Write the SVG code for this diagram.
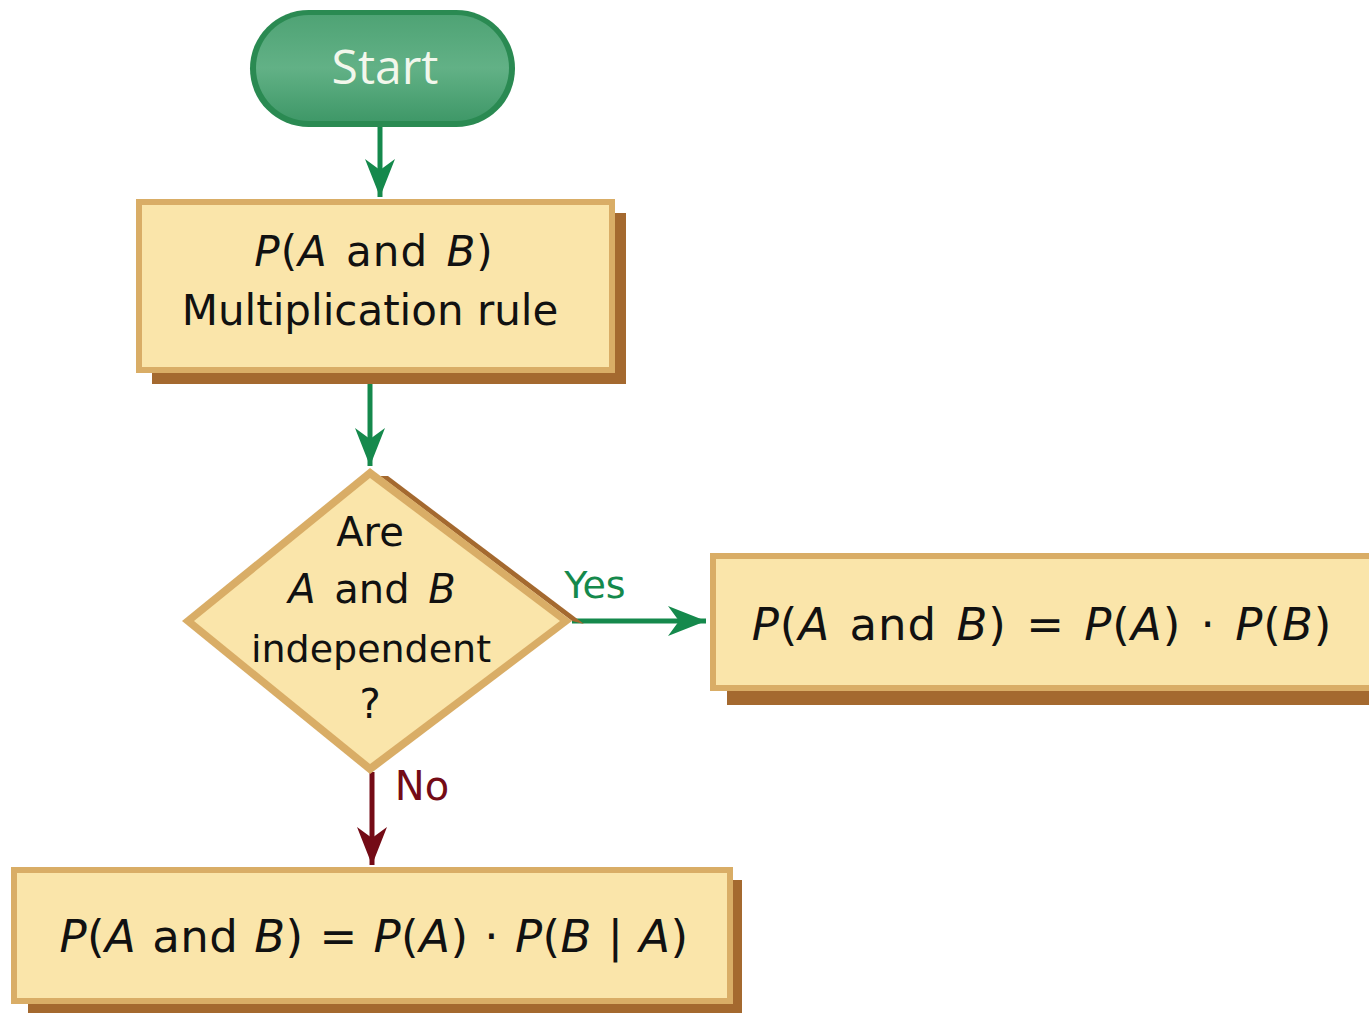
<svg xmlns="http://www.w3.org/2000/svg" width="1369" height="1013" viewBox="0 0 1369 1013">
<style>
.shadow{fill:#a4692f}
.bevel{fill:#d9ad66}
.face{fill:#fae5aa}
.t{font-family:"DejaVu Sans","Liberation Sans",sans-serif;fill:#111;text-anchor:middle}
.v{font-style:italic}
.start{font-family:"Open Sans","DejaVu Sans",sans-serif;font-size:48px;fill:#f2f7ec;text-anchor:middle}
.g{stroke:#15894c;stroke-width:5;fill:none}
.r{stroke:#740b16;stroke-width:5;fill:none}
</style>
<defs>
<marker id="ag" viewBox="0 0 38 30" refX="38" refY="15" markerWidth="38" markerHeight="30" markerUnits="userSpaceOnUse" orient="auto">
<path d="M0,0 L11,15 L0,30 L38,15 Z" fill="#15894c"/>
</marker>
<marker id="ar" viewBox="0 0 38 30" refX="38" refY="15" markerWidth="38" markerHeight="30" markerUnits="userSpaceOnUse" orient="auto">
<path d="M0,0 L11,15 L0,30 L38,15 Z" fill="#740b16"/>
</marker>
<linearGradient id="pill" x1="0" y1="0" x2="0" y2="1">
<stop offset="0" stop-color="#4fa375"/>
<stop offset="0.5" stop-color="#62b186"/>
<stop offset="1" stop-color="#3f9868"/>
</linearGradient>
</defs>

<g id="connectors">
<line class="g" x1="380" y1="127" x2="380" y2="197" marker-end="url(#ag)"/>
<line class="g" x1="370" y1="384" x2="370" y2="466" marker-end="url(#ag)"/>
<line class="g" x1="572" y1="621" x2="706" y2="621" marker-end="url(#ag)"/>
<line class="r" x1="372" y1="772" x2="372" y2="865" marker-end="url(#ar)"/>
<text x="595" y="598" font-family="DejaVu Sans,sans-serif" font-size="38" fill="#15894c" text-anchor="middle">Yes</text>
<text x="422" y="800" font-family="DejaVu Sans,sans-serif" font-size="40" fill="#740b16" text-anchor="middle">No</text>
</g>

<g id="start">
<rect x="250" y="10" width="265" height="117" rx="58.5" fill="#2a8a52"/>
<rect x="256" y="15" width="253" height="106" rx="53" fill="url(#pill)"/>
<text class="start" x="385" y="84">Start</text>
</g>

<g id="mult">
<rect class="shadow" x="152" y="213" width="474" height="171"/>
<rect class="bevel" x="136" y="199" width="479" height="174"/>
<rect class="face" x="142" y="205" width="467" height="162"/>
<text class="t" x="374" y="266" font-size="42" word-spacing="4" letter-spacing="1"><tspan class="v">P</tspan>(<tspan class="v">A</tspan> and <tspan class="v">B</tspan>)</text>
<text class="t" x="370" y="325" font-size="42">Multiplication rule</text>
</g>

<g id="decision">
<polygon class="shadow" points="388,476 584,624 572,621 380,476"/>
<polygon class="bevel" points="370,468 572,621 370,774 182,621"/>
<polygon class="face" points="370,478 560,621 370,764 194,621"/>
<text class="t" x="370" y="546" font-size="40">Are</text>
<text class="t" x="372" y="603" font-size="40" word-spacing="6"><tspan class="v">A</tspan> and <tspan class="v">B</tspan></text>
<text class="t" x="371" y="662" font-size="38">independent</text>
<text class="t" x="370" y="718" font-size="40">?</text>
</g>

<g id="indep">
<rect class="shadow" x="727" y="565" width="642" height="140"/>
<rect class="bevel" x="710" y="553" width="659" height="138"/>
<rect class="face" x="716" y="559" width="653" height="126"/>
<text class="t" x="1042" y="640" font-size="45" letter-spacing="1" word-spacing="4"><tspan class="v">P</tspan>(<tspan class="v">A</tspan> and <tspan class="v">B</tspan>) = <tspan class="v">P</tspan>(<tspan class="v">A</tspan>) · <tspan class="v">P</tspan>(<tspan class="v">B</tspan>)</text>
</g>

<g id="dep">
<rect class="shadow" x="28" y="880" width="714" height="133"/>
<rect class="bevel" x="11" y="867" width="722" height="137"/>
<rect class="face" x="17" y="873" width="710" height="125"/>
<text class="t" x="374" y="952" font-size="45" letter-spacing="0.5" word-spacing="1"><tspan class="v">P</tspan>(<tspan class="v">A</tspan> and <tspan class="v">B</tspan>) = <tspan class="v">P</tspan>(<tspan class="v">A</tspan>) · <tspan class="v">P</tspan>(<tspan class="v">B</tspan> | <tspan class="v">A</tspan>)</text>
</g>
</svg>
